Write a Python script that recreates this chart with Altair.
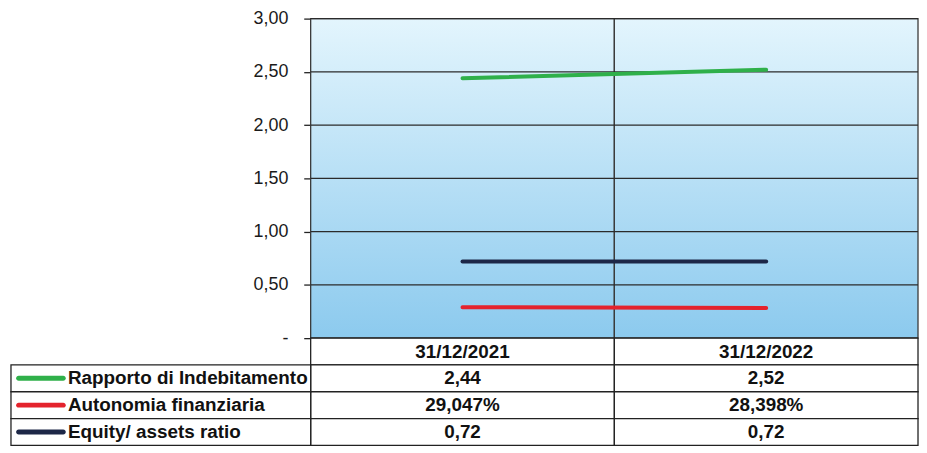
import altair as alt
import pandas as pd

# ---------------- data ----------------
dates = ["31/12/2021", "31/12/2022"]
series = ["Rapporto di Indebitamento", "Autonomia finanziaria", "Equity/ assets ratio"]
rapporto = [2.44, 2.52]
autonomia = [0.29047, 0.28398]
equity = [0.72, 0.72]
rapporto_lbl = ["2,44", "2,52"]
autonomia_lbl = ["29,047%", "28,398%"]
equity_lbl = ["0,72", "0,72"]
colors = ["#2fb04a", "#e4232d", "#1d2747"]
y_ticks = [0, 0.5, 1, 1.5, 2, 2.5, 3]

# ---------------- layout ----------------
W = 612      # date columns width (plot area)
LW = 302     # legend column width
PH = 322     # plot height
RH = 27      # table row height
HDR = "hdr"
LEG = "leg"
FONT = "Liberation Sans"

values = [rapporto, autonomia, equity]
labels = [rapporto_lbl, autonomia_lbl, equity_lbl]

line_df = pd.DataFrame(
    [{"date": d, "series": s, "value": v[i]} for s, v in zip(series, values) for i, d in enumerate(dates)]
)
date_df = pd.DataFrame({"date": dates})
grid_df = pd.DataFrame({"v": y_ticks})

cells = [{"col": d, "row": HDR, "label": d} for d in dates]
for s, lbl in zip(series, labels):
    for i, d in enumerate(dates):
        cells.append({"col": d, "row": s, "label": lbl[i]})
cell_df = pd.DataFrame(cells)
leg_df = pd.DataFrame({"col": [LEG] * len(series), "row": series, "series": series})


def xdate():
    return alt.Scale(type="band", domain=dates, range=[0, W], paddingInner=0, paddingOuter=0)


def xpt():
    return alt.Scale(type="point", domain=dates, range=[0, W], padding=0.5)


def xleg():
    return alt.Scale(type="band", domain=[LEG], range=[-LW, 0], paddingInner=0, paddingOuter=0)


def yplot():
    return alt.Scale(type="linear", domain=[0, 3], range=[PH, 0], nice=False, zero=False)


def yrow():
    return alt.Scale(type="band", domain=[HDR] + series, range=[PH, PH + 4 * RH],
                     paddingInner=0, paddingOuter=0)


color_scale = alt.Scale(domain=series, range=colors)

gradient = alt.Gradient(
    gradient="linear", x1=0, y1=0, x2=0, y2=1,
    stops=[alt.GradientStop(color="#e3f5fd", offset=0),
           alt.GradientStop(color="#8ccaee", offset=1)],
)

# plot background columns
bg = alt.Chart(date_df).mark_rect(fill=gradient, stroke="#3a3a3a", strokeWidth=1.3).encode(
    x=alt.X("date:N", scale=xdate(), axis=None),
    y=alt.YDatum(3, type="quantitative", scale=yplot(), axis=None),
    y2=alt.Y2Datum(0),
)

grid = alt.Chart(grid_df).mark_rule(color="#2b2b2b", strokeWidth=1.2).encode(
    y=alt.Y("v:Q", scale=yplot(), axis=None),
)

lines = alt.Chart(line_df).mark_line(strokeWidth=4, strokeCap="round").encode(
    x=alt.X("date:N", scale=xpt(), axis=None),
    y=alt.Y(
        "value:Q", scale=yplot(), title=None,
        axis=alt.Axis(
            values=y_ticks,
            labelExpr="datum.value == 0 ? '-' : replace(format(datum.value, '.2f'), '.', ',')",
            grid=False, domainColor="#222", domainWidth=1.5, tickColor="#222", tickWidth=1.3,
            tickSize=7, labelPadding=16, labelFontSize=18, labelFont=FONT, labelColor="#1a1a1a",
        ),
    ),
    color=alt.Color("series:N", scale=color_scale, legend=None),
)

date_cells = alt.Chart(cell_df).mark_rect(fill="white", stroke="#222", strokeWidth=1.3).encode(
    x=alt.X("col:N", scale=xdate(), axis=None),
    y=alt.Y("row:N", scale=yrow(), axis=None),
)

date_text = alt.Chart(cell_df).mark_text(fontSize=19, fontWeight="bold", font=FONT, color="#111").encode(
    x=alt.X("col:N", scale=xdate(), axis=None, bandPosition=0.5),
    y=alt.Y("row:N", scale=yrow(), axis=None, bandPosition=0.5),
    text="label:N",
)

leg_cells = alt.Chart(leg_df).mark_rect(fill="white", stroke="#222", strokeWidth=1.3).encode(
    x=alt.X("col:N", scale=xleg(), axis=None),
    y=alt.Y("row:N", scale=yrow(), axis=None),
)

leg_text = alt.Chart(leg_df).mark_text(fontSize=19, fontWeight="bold", font=FONT, color="#111",
                                       align="left").encode(
    x=alt.X("col:N", scale=xleg(), axis=None, bandPosition=0.19),
    y=alt.Y("row:N", scale=yrow(), axis=None, bandPosition=0.5),
    text="series:N",
)

swatch = alt.Chart(leg_df).mark_tick(orient="horizontal", size=50, thickness=5, cornerRadius=2.5,
                                     opacity=1, xOffset=-LW * 0.4).encode(
    x=alt.X("col:N", scale=xleg(), axis=None),
    y=alt.Y("row:N", scale=yrow(), axis=None),
    color=alt.Color("series:N", scale=color_scale, legend=None),
)

chart = alt.layer(
    bg, grid, lines, date_cells, date_text, leg_cells, leg_text, swatch
).resolve_scale(
    x="independent", y="independent"
).properties(
    width=W, height=PH + 4 * RH, padding={"left": 2, "top": 0, "right": 0, "bottom": 0},
    background="white",
).configure_view(stroke=None)

chart.save("out.html", embed_options={"renderer": "svg", "actions": False})
